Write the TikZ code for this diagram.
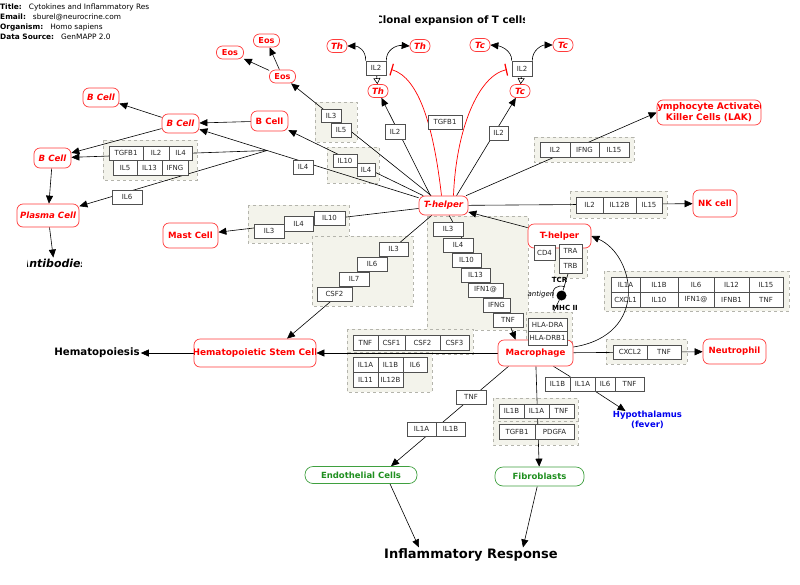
\documentclass[tikz,border=0pt]{standalone}
\usepackage{fontspec}
\setmainfont{DejaVu Sans}
\usetikzlibrary{arrows.meta}
\definecolor{cellred}{HTML}{FF0000}
\definecolor{cellborder}{HTML}{FF3B3B}
\definecolor{grpfill}{HTML}{F3F3EB}
\definecolor{grpline}{HTML}{B4B4AC}
\definecolor{genegray}{HTML}{505050}
\definecolor{endogreen}{HTML}{1F8F1F}
\definecolor{endoborder}{HTML}{3FA03F}
\definecolor{hypoblue}{HTML}{0000EE}
\pgfdeclarelayer{grp}
\pgfdeclarelayer{edge}
\pgfsetlayers{grp,edge,main}
\newcommand{\genebox}[6]{\node[gene, minimum width={(#4-#2)*1pt}, minimum height={(#5-#3)*1pt}] (#1) at ({(#2+#4)/2},{(#3+#5)/2}) {#6};}
\newcommand{\grpbox}[4]{\begin{pgfonlayer}{grp}\draw[grpstyle] (#1,#2) rectangle (#3,#4);\end{pgfonlayer}}
\begin{document}
\begin{tikzpicture}[x=1pt,y=-1pt,
  gene/.style={draw=genegray, fill=white, line width=0.6pt, inner sep=0pt, text=black!85, font=\fontsize{7}{8}\selectfont},
  grpstyle/.style={draw=grpline, fill=grpfill, dashed, line width=0.6pt},
  cell/.style={draw=cellborder, fill=white, rounded corners=6pt, line width=0.7pt, inner sep=0pt, text=cellred, font=\fontsize{8.6}{10}\selectfont\bfseries},
  celli/.style={cell, font=\fontsize{8.6}{10}\selectfont\bfseries\itshape},
  greencell/.style={draw=endoborder, fill=white, rounded corners=8pt, line width=0.7pt, inner sep=0pt, text=endogreen, font=\fontsize{8.5}{10}\selectfont\bfseries},
  hdr/.style={inner sep=0pt, font=\fontsize{7.4}{8}\selectfont},
  lbl/.style={inner sep=0pt, font=\fontsize{7}{8}\selectfont\bfseries},
  conn/.style={draw=black, line width=0.6pt},
  arr/.style={conn, -{Triangle[length=8pt,width=7pt]}},
  openarr/.style={conn, -{Triangle[open,length=6pt,width=7pt]}},
  inhib/.style={draw=red, line width=0.7pt, -{Bar[width=12pt,line width=1.2pt]}, shorten >=5pt}
]
\useasboundingbox (0,0) rectangle (800,584);

% header
\node[hdr, anchor=west] (htitle) at (0,7) {\textbf{Title:}\hspace{7pt}Cytokines and Inflammatory Res};
\node[hdr, anchor=west] (hemail) at (0,17.5) {\textbf{Email:}\hspace{7pt}sburel@neurocrine.com};
\node[hdr, anchor=west] (horg) at (0,27.5) {\textbf{Organism:}\hspace{7pt}Homo sapiens};
\node[hdr, anchor=west] (hsrc) at (0,37) {\textbf{Data Source:}\hspace{7pt}GenMAPP 2.0};

\begin{scope}
\clip (379,10) rectangle (524,32);
\node[inner sep=0pt, font=\fontsize{10.2}{12}\selectfont\bfseries] (clonal) at (452,21) {Clonal expansion of T cells};
\end{scope}

% groups
\grpbox{315}{102}{357}{142}
\grpbox{327}{147}{379}{183}
\grpbox{534}{137}{634}{162}
\grpbox{570}{191}{667}{218}
\grpbox{103}{140}{197}{180}
\grpbox{248}{205}{349}{243}
\grpbox{312}{236}{413}{306}
\grpbox{427}{216}{528}{330}
\grpbox{554}{240}{587}{278}
\grpbox{526}{312}{572}{347}
\grpbox{604}{271}{789}{311}
\grpbox{606}{339}{687}{364}
\grpbox{347}{329}{473}{354}
\grpbox{347}{352}{432}{392}
\grpbox{493}{398}{578}{421}
\grpbox{493}{421}{578}{445}

% cells
\node[cell, minimum width=27pt, minimum height=13pt, font=\fontsize{8.2}{10}\selectfont\bfseries] (eos1) at (230,52.5) {Eos};
\node[cell, minimum width=26pt, minimum height=13pt, font=\fontsize{8.2}{10}\selectfont\bfseries] (eos2) at (266.5,40.5) {Eos};
\node[cell, minimum width=26pt, minimum height=13pt, font=\fontsize{8.2}{10}\selectfont\bfseries] (eos3) at (282.5,76.5) {Eos};
\node[celli, minimum width=20pt, minimum height=13pt] (thl) at (337,46) {Th};
\node[celli, minimum width=20pt, minimum height=13pt] (thr) at (420,46) {Th};
\node[celli, minimum width=20pt, minimum height=13pt] (thm) at (378,91) {Th};
\node[celli, minimum width=20pt, minimum height=13pt] (tcl) at (480,45) {Tc};
\node[celli, minimum width=20pt, minimum height=13pt] (tcr) at (563,45) {Tc};
\node[celli, minimum width=20pt, minimum height=13pt] (tcm) at (520,91) {Tc};
\node[celli, minimum width=36pt, minimum height=19pt] (bctl) at (101,97.5) {B Cell};
\node[celli, minimum width=37pt, minimum height=19pt] (bcm) at (180.5,123.5) {B Cell};
\node[cell, minimum width=37pt, minimum height=20pt] (bcr) at (269.5,121) {B Cell};
\node[celli, minimum width=37pt, minimum height=20pt] (bcl) at (52.5,158) {B Cell};
\node[celli, minimum width=62pt, minimum height=23pt] (plasma) at (48,215.5) {Plasma Cell};
\node[cell, minimum width=55pt, minimum height=25pt] (mast) at (190.5,235.5) {Mast Cell};
\node[celli, minimum width=49pt, minimum height=19pt] (thc) at (443.5,205.5) {T-helper};
\node[cell, minimum width=63pt, minimum height=24pt] (thr2) at (559.5,236) {T-helper};
\node[cell, minimum width=104pt, minimum height=25pt] (lak) at (709,112.5) {};
\begin{scope}
\clip ([xshift=1pt]lak.south west) rectangle ([xshift=-1pt]lak.north east);
\node[cell, draw=none, fill=none, align=center, font=\fontsize{9.1}{10.8}\selectfont\bfseries] (laktxt) at (lak) {Lymphocyte Activated\\Killer Cells (LAK)};
\end{scope}
\node[cell, minimum width=44pt, minimum height=27pt] (nk) at (715,203.5) {NK cell};
\node[cell, minimum width=63pt, minimum height=25pt] (neut) at (734.5,351.5) {Neutrophil};
\node[cell, minimum width=75pt, minimum height=26pt] (mac) at (535.5,353) {Macrophage};
\node[cell, minimum width=122pt, minimum height=28pt] (hsc) at (255,353) {};
\begin{scope}
\clip ([xshift=1pt]hsc.south west) rectangle ([xshift=-1pt]hsc.north east);
\node[cell, draw=none, fill=none, font=\fontsize{8.95}{10}\selectfont\bfseries] (hsctxt) at (hsc) {Hematopoietic Stem Cell};
\end{scope}
\node[greencell, minimum width=112pt, minimum height=17pt] (endo) at (361,475) {Endothelial Cells};
\node[greencell, minimum width=89pt, minimum height=19pt] (fib) at (539.5,476.5) {Fibroblasts};

% plain labels
\node[inner sep=1pt, font=\fontsize{10.2}{12}\selectfont\bfseries] (hemato) at (97,353) {Hematopoiesis};
\node[inner sep=1pt, font=\fontsize{13}{15}\selectfont\bfseries] (infl) at (471,555) {Inflammatory Response};
\begin{scope}
\clip (27,254) rectangle (81,272);
\node[inner sep=1pt, font=\fontsize{11}{12}\selectfont\bfseries\itshape] (antitxt) at (54,263) {Antibodies};
\end{scope}
\node[inner sep=0pt, align=center, text=hypoblue, font=\fontsize{8.5}{10}\selectfont\bfseries] (hypo) at (647.5,420) {Hypothalamus\\(fever)};
\node[lbl] (tcrlbl) at (559.5,280) {TCR};
\node[inner sep=0pt, font=\fontsize{7}{8}\selectfont\itshape] (antigen) at (541,295) {antigen};
\node[lbl] (mhclbl) at (565,308) {MHC II};
\node[circle, fill=black, inner sep=0pt, minimum size=10pt] (mhcdot) at (561.5,295.5) {};

% genes
\genebox{il2th}{366}{61}{386}{75}{IL2}
\genebox{il2tc}{512}{61}{532}{76}{IL2}
\genebox{ga1}{321}{109}{341}{122}{IL3}
\genebox{ga2}{331}{123}{351}{137}{IL5}
\genebox{gb1}{333}{154}{357}{167}{IL10}
\genebox{gb2}{357}{163}{375}{176}{IL4}
\genebox{gc1}{293}{160}{313}{174}{IL4}
\genebox{gd1}{385}{124}{405}{139}{IL2}
\genebox{ge1}{428}{115}{462}{129}{TGFB1}
\genebox{gf1}{489}{126}{508}{140}{IL2}
\genebox{gl1}{540}{142}{570}{157}{IL2}
\genebox{gl2}{570}{142}{599}{157}{IFNG}
\genebox{gl3}{599}{142}{629}{157}{IL15}
\genebox{gn1}{576}{197}{603}{213}{IL2}
\genebox{gn2}{603}{197}{636}{213}{IL12B}
\genebox{gn3}{636}{197}{662}{213}{IL15}
\genebox{gbc1}{109}{146}{143}{160}{TGFB1}
\genebox{gbc2}{143}{146}{169}{160}{IL2}
\genebox{gbc3}{169}{146}{192}{160}{IL4}
\genebox{gbc4}{113}{160}{137}{175}{IL5}
\genebox{gbc5}{137}{160}{162}{175}{IL13}
\genebox{gbc6}{162}{160}{188}{175}{IFNG}
\genebox{gilsix}{112}{190}{142}{204}{IL6}
\genebox{gm1}{254}{224}{284}{238}{IL3}
\genebox{gm2}{284}{216}{313}{231}{IL4}
\genebox{gm3}{314}{211}{345}{225}{IL10}
\genebox{gh1}{379}{242}{408}{256}{IL3}
\genebox{gh2}{357}{257}{387}{271}{IL6}
\genebox{gh3}{339}{272}{369}{286}{IL7}
\genebox{gh4}{317}{287}{352}{301}{CSF2}
\genebox{gx1}{433}{222}{463}{236}{IL3}
\genebox{gx2}{443}{238}{473}{252}{IL4}
\genebox{gx3}{452}{253}{481}{267}{IL10}
\genebox{gx4}{461}{268}{490}{282}{IL13}
\genebox{gx5}{468}{283}{503}{297}{IFN1@}
\genebox{gx6}{483}{298}{510}{312}{IFNG}
\genebox{gx7}{493}{313}{523}{327}{TNF}
\genebox{cd4}{534}{245}{555}{260}{CD4}
\genebox{tra}{559}{244}{582}{258}{TRA}
\genebox{trb}{559}{258}{582}{273}{TRB}
\genebox{hladra}{528}{318}{567}{331}{HLA-DRA}
\genebox{hladrb}{528}{331}{567}{345}{HLA-DRB1}
\genebox{gr11}{611}{277}{640}{292}{IL1A}
\genebox{gr12}{640}{277}{678}{292}{IL1B}
\genebox{gr13}{678}{277}{714}{292}{IL6}
\genebox{gr14}{714}{277}{749}{292}{IL12}
\genebox{gr15}{749}{277}{783}{292}{IL15}
\genebox{gr21}{611}{292}{640}{307}{CXCL1}
\genebox{gr22}{640}{292}{678}{307}{IL10}
\genebox{gr23}{678}{292}{714}{307}{IFN1@}
\genebox{gr24}{714}{292}{749}{307}{IFNB1}
\genebox{gr25}{749}{292}{783}{307}{TNF}
\genebox{gq1}{613}{345}{647}{359}{CXCL2}
\genebox{gq2}{647}{345}{681}{359}{TNF}
\genebox{gs1}{353}{335}{378}{350}{TNF}
\genebox{gs2}{378}{335}{405}{350}{CSF1}
\genebox{gs3}{405}{335}{440}{350}{CSF2}
\genebox{gs4}{440}{335}{469}{350}{CSF3}
\genebox{gt1}{353}{357}{378}{372}{IL1A}
\genebox{gt2}{378}{357}{403}{372}{IL1B}
\genebox{gt3}{403}{357}{427}{372}{IL6}
\genebox{gt4}{353}{372}{378}{387}{IL11}
\genebox{gt5}{378}{372}{403}{387}{IL12B}
\genebox{gtnf}{456}{390}{486}{404}{TNF}
\genebox{gu1}{407}{422}{436}{436}{IL1A}
\genebox{gu2}{436}{422}{465}{436}{IL1B}
\genebox{gv1}{499}{404}{524}{418}{IL1B}
\genebox{gv2}{524}{404}{549}{418}{IL1A}
\genebox{gv3}{549}{404}{574}{418}{TNF}
\genebox{gv4}{499}{424}{535}{439}{TGFB1}
\genebox{gv5}{535}{424}{574}{439}{PDGFA}
\genebox{gw1}{545}{377}{570}{391}{IL1B}
\genebox{gw2}{570}{377}{595}{391}{IL1A}
\genebox{gw3}{595}{377}{615}{391}{IL6}
\genebox{gw4}{615}{377}{644}{391}{TNF}

\coordinate (J) at (267,150.5);

% connectors
\begin{pgfonlayer}{edge}
\draw[arr] (eos3) -- (eos1);
\draw[arr] (eos3) -- (eos2);
\draw[arr] (thc) -- (eos3);
\draw[arr] (thc) -- (bcr);
\draw[arr] (thc) -- (bcm);
\draw[arr] (J) -- (bcl);
\draw[arr] (J) -- (plasma);
\draw[arr] (bcr) -- (bcm);
\draw[arr] (bcm) -- (bctl);
\draw[arr] (bcm) -- (bcl);
\draw[arr] (bcl) -- (plasma);
\draw[arr] (plasma) -- (antitxt);
\draw[arr] ([xshift=-13pt]thc.north) -- (thm);
\draw[arr] ([xshift=13pt]thc.north) -- (tcm);
\draw[openarr] (il2th) -- (thm);
\draw[openarr] (il2tc) -- (tcm);
\draw[arr] (il2th.north west) .. controls (366,50) and (358,46) .. (thl.east);
\draw[arr] (il2th.north east) .. controls (386,50) and (396,45) .. (thr.west);
\draw[arr] (il2tc.north west) .. controls (512,50) and (500,46) .. (tcl.east);
\draw[arr] (il2tc.north east) .. controls (532,50) and (542,45) .. (tcr.west);
\draw[inhib] ([xshift=-2pt]thc.north) .. controls (434,130) and (420,78) .. (il2th.east);
\draw[inhib] ([xshift=10pt]thc.north) .. controls (456,130) and (478,76) .. (il2tc.west);
\draw[arr] (thc) -- (lak.west);
\draw[arr] (thc) -- (nk);
\draw[arr] (thc) -- (mast);
\draw[arr] (thc.220) -- ([xshift=32pt]hsc.north);
\draw[conn] (thc) -- (gx7);
\draw[arr] (gx7) -- ([xshift=-20pt]mac.north);
\draw[arr] (thr2) -- (thc);
\draw[conn] (trb) -- (mhcdot);
\draw[conn, shorten >=7pt] (mhcdot) -- (hladra);
\draw[conn] (553,298) .. controls (551,288) and (558,284) .. (565,287);
\draw[arr] (mac) -- (hsc);
\draw[arr] (hsc) -- (hemato);
\draw[arr] (mac) -- (neut);
\draw[conn] ([xshift=18pt]mac.south) -- (gw1.north east);
\draw[arr] (gw2.south east) -- ([xshift=-22pt]hypo.north);
\draw[arr] (mac) -- (fib);
\draw[arr] ([xshift=-27pt]mac.south) -- ([xshift=30pt]endo.north);
\draw[arr] ([xshift=29pt]endo.south) -- ([xshift=-52pt]infl.north);
\draw[arr] (fib) -- ([xshift=52pt]infl.north);
\end{pgfonlayer}

\draw[arr] ([yshift=6pt]mac.east) .. controls (650,335) and (635,255) .. (thr2.east);
\end{tikzpicture}
\end{document}
